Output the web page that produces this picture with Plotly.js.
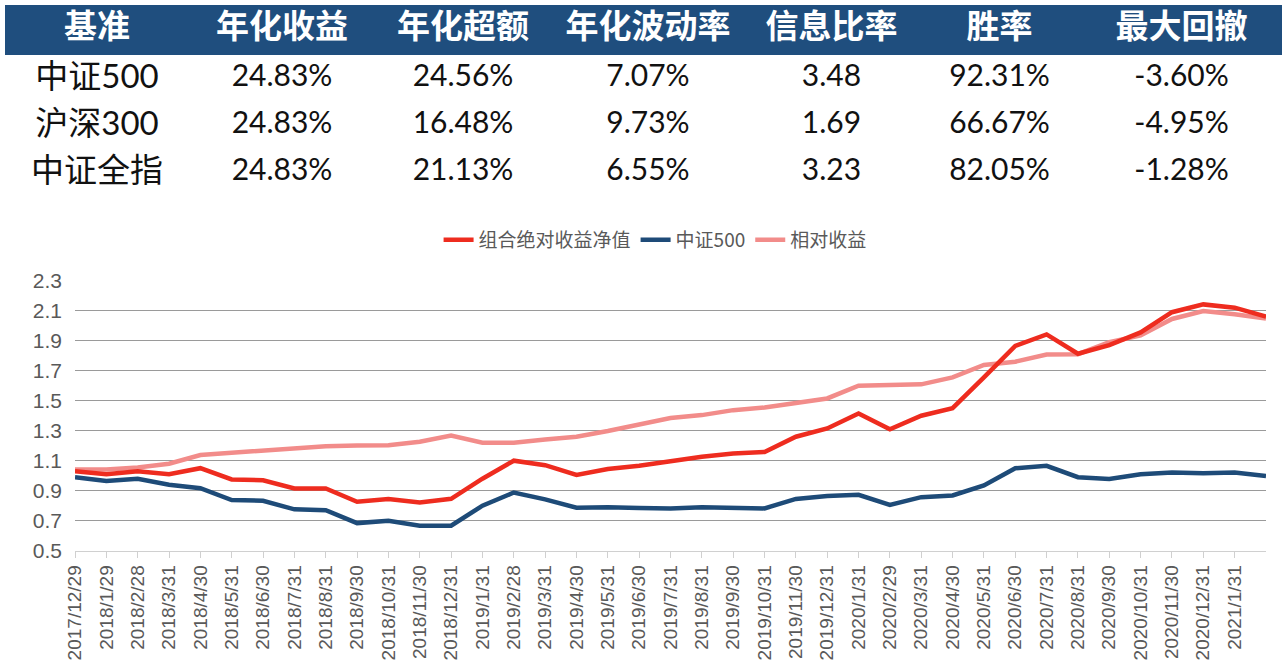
<!DOCTYPE html>
<html>
<head>
<meta charset="utf-8">
<script src="https://cdn.plot.ly/plotly-3.0.1.min.js"></script>
<style>
html,body{margin:0;padding:0;background:#fff;}
#chart{width:1287px;height:669px;}
</style>
</head>
<body>
<div id="chart"></div>
<script>
// ---- table data ----
var tableHeader = ["基准", "年化收益", "年化超额", "年化波动率", "信息比率", "胜率", "最大回撤"];
var benchmarks = ["中证500", "沪深300", "中证全指"];
var annReturn = ["24.83%", "24.83%", "24.83%"];
var annExcess = ["24.56%", "16.48%", "21.13%"];
var annVol = ["7.07%", "9.73%", "6.55%"];
var infoRatio = ["3.48", "1.69", "3.23"];
var winRate = ["92.31%", "66.67%", "82.05%"];
var maxDrawdown = ["-3.60%", "-4.95%", "-1.28%"];

// ---- chart data ----
var tickLabels = ["2017/12/29","2018/1/29","2018/2/28","2018/3/31","2018/4/30","2018/5/31","2018/6/30","2018/7/31","2018/8/31","2018/9/30","2018/10/31","2018/11/30","2018/12/31",
  "2019/1/31","2019/2/28","2019/3/31","2019/4/30","2019/5/31","2019/6/30","2019/7/31","2019/8/31","2019/9/30","2019/10/31","2019/11/30","2019/12/31",
  "2020/1/31","2020/2/29","2020/3/31","2020/4/30","2020/5/31","2020/6/30","2020/7/31","2020/8/31","2020/9/30","2020/10/31","2020/11/30","2020/12/31",
  "2021/1/31"];
var seriesNames = ["组合绝对收益净值", "中证500", "相对收益"];
var portfolioNav = [1.03,1.01,1.03,1.01,1.05,0.975,0.97,0.915,0.915,0.826,
  0.845,0.822,0.846,0.98,1.10,1.07,1.005,1.045,1.067,1.10,
  1.127,1.148,1.158,1.26,1.315,1.415,1.31,1.40,1.45,1.655,
  1.865,1.942,1.813,1.87,1.955,2.09,2.142,2.12,2.06];
var csi500 = [0.99,0.965,0.98,0.94,0.917,0.838,0.833,0.776,0.77,0.684,
  0.70,0.667,0.667,0.80,0.888,0.842,0.787,0.79,0.784,0.781,
  0.79,0.786,0.782,0.845,0.864,0.873,0.805,0.857,0.868,0.935,
  1.05,1.066,0.99,0.978,1.009,1.021,1.016,1.021,0.998];
var relativeRet = [1.042,1.042,1.055,1.08,1.138,1.153,1.167,1.182,1.197,1.202,
  1.203,1.226,1.268,1.22,1.22,1.242,1.26,1.298,1.342,1.385,
  1.404,1.437,1.455,1.482,1.515,1.6,1.604,1.609,1.655,1.738,
  1.76,1.808,1.81,1.89,1.935,2.045,2.098,2.077,2.048];

var W = 1287, H = 669;
var xIdx = portfolioNav.map(function(_, i){ return i; });
var tickIdx = tickLabels.map(function(_, i){ return i; });

var colors = ["#EE2C1F", "#1E4B78", "#F28C8A"];

var lineTraces = [portfolioNav, csi500, relativeRet].map(function(vals, k){
  return {
    type: "scatter", mode: "lines",
    x: xIdx, y: vals, name: seriesNames[k],
    line: {color: colors[k], width: 4.5},
    xaxis: "x", yaxis: "y"
  };
});
// draw order: pink under, then red, then blue
var data = [lineTraces[2], lineTraces[0], lineTraces[1]];

var tableTrace = {
  type: "table",
  domain: {x: [5/W, 1282/W], y: [1 - 210/H, 1 - 5/H]},
  columnwidth: [184, 186, 176, 194, 173, 163, 201],
  header: {
    values: tableHeader,
    align: "center",
    height: 50,
    fill: {color: "#1F4E7E"},
    line: {color: "#1F4E7E", width: 0},
    font: {family: "Noto Sans CJK SC", size: 33, color: "#ffffff", weight: 700}
  },
  cells: {
    values: [benchmarks, annReturn, annExcess, annVol, infoRatio, winRate, maxDrawdown],
    align: "center",
    height: 47,
    fill: {color: "#ffffff"},
    line: {color: "#ffffff", width: 0},
    font: {family: "Lato, 'Noto Sans CJK SC'", size: [33, 30, 30, 30, 30, 30, 30], color: "#111111"}
  }
};
data.push(tableTrace);

var layout = {
  width: W, height: H,
  margin: {l: 0, r: 0, t: 0, b: 0},
  paper_bgcolor: "#ffffff", plot_bgcolor: "#ffffff",
  showlegend: true,
  legend: {
    orientation: "h", x: 0.509, xanchor: "center", y: 1 - 240/H, yanchor: "middle",
    font: {family: "Noto Sans CJK SC", size: 19, color: "#595959"},
    traceorder: "normal"
  },
  xaxis: {
    domain: [75/W, 1266/W],
    range: [0, 38],
    tickmode: "array", tickvals: tickIdx, ticktext: tickLabels,
    tickangle: -90,
    ticks: "outside", ticklen: 6, tickcolor: "#d0d0d0",
    showline: true, linecolor: "#d0d0d0", linewidth: 1,
    showgrid: false, zeroline: false,
    tickfont: {family: "Liberation Sans, Arial", size: 19, color: "#595959"},
    fixedrange: true
  },
  yaxis: {
    domain: [(H - 550.7)/H, (H - 280.7)/H],
    range: [0.5, 2.3],
    tick0: 0.5, dtick: 0.2, tickformat: ".1f",
    showgrid: true, gridcolor: "#9a9a9a", gridwidth: 1.2,
    zeroline: false, showline: false, ticks: "",
    ticklabelstandoff: 12,
    tickfont: {family: "Liberation Sans, Arial", size: 21, color: "#595959"},
    fixedrange: true
  }
};

// legend order: 组合, 中证500, 相对收益
data[0].legendrank = 3; data[1].legendrank = 1; data[2].legendrank = 2;

Plotly.newPlot("chart", data, layout, {displayModeBar: false, staticPlot: true});
</script>
</body>
</html>
